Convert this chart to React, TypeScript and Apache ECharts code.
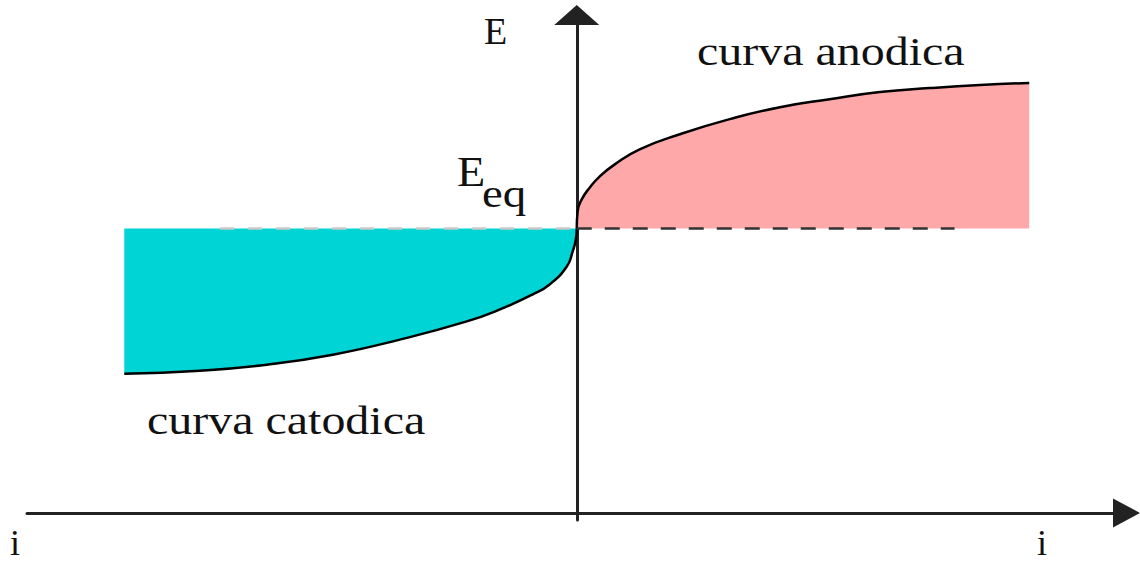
import React, { useEffect, useRef } from "react";
import * as echarts from "echarts";

// current i (units: end of curves = ±1), potential E (units: Eeq = 1)
const E_EQ = 1;
const cathodicI = [-1.0, -0.833, -0.685, -0.539, -0.391, -0.243, -0.17, -0.097, -0.06, -0.022, -0.009, -0.002, 0];
const cathodicE = [0.489, 0.5, 0.521, 0.556, 0.609, 0.673, 0.715, 0.768, 0.803, 0.866, 0.919, 0.961, 1.0];
const anodicI = [0, 0.002, 0.011, 0.029, 0.051, 0.084, 0.139, 0.228, 0.338, 0.449, 0.559, 0.67, 0.78, 0.891, 1.0];
const anodicE = [1.0, 1.06, 1.102, 1.144, 1.183, 1.225, 1.278, 1.331, 1.384, 1.426, 1.454, 1.479, 1.493, 1.504, 1.511];
const eqDashLeft = [-0.788, 0];
const eqDashRight = [0, 0.835];

const labelE = "E";
const labelEeqMain = "E";
const labelEeqSub = "eq";
const labelAnodic = "curva anodica";
const labelCathodic = "curva catodica";
const labelI = "i";

const SERIF = '"Liberation Serif", "DejaVu Serif", serif';

function txt(text: string, x: number, y: number, fontSize: number, scaleX: number) {
  return {
    type: "text",
    x,
    y,
    scaleX,
    z: 100,
    style: {
      text,
      x: 0,
      y: 0,
      fill: "#111",
      fontSize,
      fontFamily: SERIF,
      align: "left",
      verticalAlign: "middle",
    },
  };
}

export default function App() {
  const ref = useRef<HTMLDivElement>(null);
  useEffect(() => {
    if (!ref.current) return;
    const chart = echarts.init(ref.current, undefined, { renderer: "svg" });
    const zip = (a: number[], b: number[]) => a.map((v, k) => [v, b[k]]);
    chart.setOption({
      animation: false,
      grid: { left: 27, right: 13.5, top: 15, bottom: 42, containLabel: false },
      xAxis: {
        type: "value",
        min: -1.215,
        max: 1.215,
        axisLine: {
          show: true,
          onZero: true,
          symbol: ["none", "triangle"],
          symbolSize: [29, 27],
          lineStyle: { color: "#222", width: 3 },
        },
        axisTick: { show: false },
        axisLabel: { show: false },
        splitLine: { show: false },
      },
      yAxis: {
        type: "value",
        min: -0.025,
        max: 1.75,
        axisLine: {
          show: true,
          onZero: true,
          symbol: ["none", "triangle"],
          symbolSize: [45, 20],
          lineStyle: { color: "#222", width: 3 },
        },
        axisTick: { show: false },
        axisLabel: { show: false },
        splitLine: { show: false },
      },
      series: [
        {
          name: "catodica",
          type: "line",
          data: zip(cathodicI, cathodicE),
          smooth: 0.5,
          symbol: "none",
          lineStyle: { color: "#000", width: 2.5 },
          areaStyle: { color: "#00D4D4", opacity: 1, origin: E_EQ },
          z: 2,
        },
        {
          name: "anodica",
          type: "line",
          data: zip(anodicI, anodicE),
          smooth: 0.5,
          symbol: "none",
          lineStyle: { color: "#000", width: 2.5 },
          areaStyle: { color: "#FFA8AA", opacity: 1, origin: E_EQ },
          z: 2,
        },
        {
          name: "eq-left",
          type: "line",
          data: eqDashLeft.map((v) => [v, E_EQ]),
          symbol: "none",
          lineStyle: { color: "#c8c8c8", width: 2.5, type: [14, 14] },
          z: 3,
        },
        {
          name: "eq-right",
          type: "line",
          data: eqDashRight.map((v) => [v, E_EQ]),
          symbol: "none",
          lineStyle: { color: "#333", width: 2.5, type: [15, 13] },
          z: 3,
        },
      ],
      graphic: [
        txt(labelE, 484, 31, 38, 1.0),
        txt(labelAnodic, 697, 51.5, 39, 1.23),
        txt(labelEeqMain, 457, 172, 42, 1.1),
        txt(labelEeqSub, 482, 193.5, 39, 1.2),
        txt(labelCathodic, 147, 420.7, 39, 1.23),
        txt(labelI, 10, 543, 36, 1.0),
        txt(labelI, 1037, 543, 36, 1.0),
      ],
    });
    return () => chart.dispose();
  }, []);
  return (
    <div
      ref={ref}
      style={{ position: "fixed", left: 0, top: 0, width: 1140, height: 562, background: "#fff" }}
    />
  );
}
